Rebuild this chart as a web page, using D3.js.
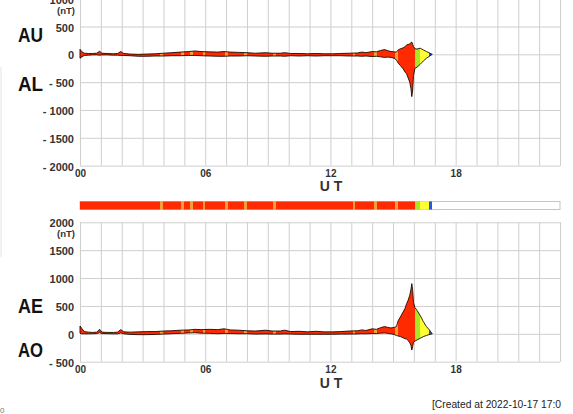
<!DOCTYPE html>
<html><head><meta charset="utf-8">
<script src="https://cdn.jsdelivr.net/npm/d3@7"></script>
<style>html,body{margin:0;padding:0;background:#fff;} svg{display:block;}</style>
</head><body>
<svg id="c" width="573" height="414"></svg>
<script>
// ---- data ----
const hours = [0,0.08,0.2,0.4,0.6,0.8,0.94,1.05,1.3,1.6,1.8,1.95,2.1,2.4,2.8,3.2,3.6,4.0,4.4,4.8,5.2,5.5,5.8,6.2,6.6,6.9,7.2,7.6,8.0,8.4,8.9,9.2,9.6,9.8,10.1,10.5,10.9,11.3,11.7,12.1,12.5,12.9,13.3,13.5,13.7,14.0,14.2,14.4,14.6,14.75,14.9,15.05,15.16,15.25,15.35,15.48,15.58,15.65,15.72,15.8,15.86,15.9,15.94,15.98,16.05,16.15,16.3,16.45,16.6,16.72,16.82,16.88];
const au = [90,50,20,15,15,20,55,20,15,10,15,50,15,5,0,5,10,20,30,40,50,60,50,45,40,50,40,35,30,20,30,20,20,30,15,15,10,15,10,10,15,20,25,40,30,50,45,70,85,65,50,45,40,80,100,115,140,170,175,190,210,220,180,140,100,95,110,80,50,30,10,0];
const al = [-70,-50,-20,-15,-10,-10,-15,-10,-10,-15,-15,-20,-20,-25,-35,-35,-30,-30,-25,-25,-20,-20,-25,-30,-35,-35,-30,-30,-25,-30,-35,-30,-30,-35,-25,-30,-25,-30,-25,-25,-25,-30,-30,-35,-30,-40,-35,-45,-55,-50,-55,-70,-100,-160,-200,-260,-320,-350,-420,-500,-620,-760,-640,-380,-250,-230,-180,-120,-70,-40,-15,0];
const ae = [140,100,40,30,25,30,80,30,25,25,30,75,35,30,35,40,40,50,55,65,70,80,75,80,75,90,70,65,55,50,65,50,50,65,40,45,35,45,35,35,40,50,55,70,60,90,80,110,130,115,105,115,130,240,300,390,460,540,600,690,800,900,780,560,470,420,330,220,130,80,30,0];
const ao = [10,0,0,0,2,5,20,5,2,0,0,15,0,-10,-15,-15,-10,-5,2,8,15,20,12,8,2,8,5,2,2,-5,-2,-5,-5,-2,-5,-8,-8,-8,-8,-8,-5,-5,-2,2,0,5,5,12,15,8,0,-12,-30,-40,-50,-70,-90,-90,-120,-160,-210,-290,-230,-150,-130,-110,-80,-50,-30,-15,-5,0];

const yTicksTop = [-2000,-1500,-1000,-500,0,500,1000];
const yTicksBottom = [-500,0,500,1000,1500,2000];
const xTickHours = [0,6,12,18];
const xTickLabels = ["00","06","12","18"];
const gridHours = d3.range(0,24);

// colour segments (hour edges) and their level
const segEdges = [0,3.84,3.97,4.83,4.96,5.27,5.40,5.88,6.01,6.95,7.08,7.88,8.01,9.27,9.40,13.07,13.20,14.09,14.22,15.10,15.23,16.04,16.30,16.72,16.88];
const segLevels = [0,1,0,1,0,1,0,1,0,1,0,1,0,1,0,1,0,1,0,1,0,2,3,4];
const levelColors = ["#ff2a00","#f2a032","#a8e62a","#ffff33","#2459e0"];

const svg = d3.select("#c");
const x = d3.scaleLinear().domain([0,23]).range([80,560]);
const yTop = d3.scaleLinear().domain([-2000,1000]).range([165.6,-1.3]);
const yBot = d3.scaleLinear().domain([-500,2000]).range([361.7,222.3]);
const FONT = "'Liberation Sans', Arial, Helvetica, sans-serif";

// gradient with hard stops for segment colours
const defs = svg.append("defs");
const grad = defs.append("linearGradient").attr("id","seg")
  .attr("gradientUnits","userSpaceOnUse")
  .attr("x1",x(0)).attr("x2",x(23)).attr("y1",0).attr("y2",0);
segLevels.forEach((lv,i)=>{
  grad.append("stop").attr("offset",segEdges[i]/23).attr("stop-color",levelColors[lv]);
  grad.append("stop").attr("offset",segEdges[i+1]/23).attr("stop-color",levelColors[lv]);
});
grad.append("stop").attr("offset",segEdges[segEdges.length-1]/23).attr("stop-color","#fff");

const fmt = d => d < 0 ? "- " + Math.abs(d) : String(d);

function panel(y, yTicks, upper, lower, bottomY, topY){
  const g = svg.append("g");
  // horizontal grid
  g.append("g").attr("transform",`translate(${x(0)},0)`)
    .call(d3.axisLeft(y).tickValues(yTicks).tickSize(-(x(23)-x(0))).tickFormat(""))
    .call(s=>{s.select(".domain").remove(); s.selectAll("line").attr("stroke","#cfcfcf");});
  // vertical grid
  g.append("g").attr("transform",`translate(0,${bottomY})`)
    .call(d3.axisBottom(x).tickValues(gridHours.concat([23])).tickSize(-(bottomY-topY)).tickFormat(""))
    .call(s=>{s.select(".domain").remove(); s.selectAll("line").attr("stroke","#cfcfcf");});
  // y labels
  g.append("g").attr("transform",`translate(${x(0)},0)`)
    .call(d3.axisLeft(y).tickValues(yTicks).tickSize(0).tickPadding(6).tickFormat(fmt))
    .call(s=>{s.select(".domain").remove();
      s.selectAll("text").attr("font-family",FONT).attr("font-size",11).attr("font-weight","bold").attr("fill","#333").attr("dy","0.42em");});
  // x labels
  g.append("g").attr("transform",`translate(0,${bottomY})`)
    .call(d3.axisBottom(x).tickValues(xTickHours).tickSize(0).tickPadding(4.5).tickFormat((d,i)=>xTickLabels[i]))
    .call(s=>{s.select(".domain").remove();
      s.selectAll("text").attr("font-family",FONT).attr("font-size",10).attr("font-weight","bold").attr("fill","#333");});
  g.append("text").attr("x",331).attr("y",bottomY+25.8).attr("text-anchor","middle")
    .attr("font-family",FONT).attr("font-size",14).attr("font-weight","bold").attr("fill","#333").text("U T");
  // filled band
  const area = d3.area().x((d,i)=>x(hours[i])).y0((d,i)=>y(lower[i])).y1((d,i)=>y(upper[i]));
  g.append("path").datum(hours).attr("d",area).attr("fill","url(#seg)")
    .attr("stroke","#1a0a00").attr("stroke-width",0.9).attr("stroke-linejoin","round");
  return g;
}

panel(yTop, yTicksTop, au, al, 165.6, -1.5);
panel(yBot, yTicksBottom, ae, ao, 361.7, 222.3);

// (nT) labels
[[14],[237]].forEach(([yy])=>{
  svg.append("text").attr("x",75).attr("y",yy).attr("text-anchor","end")
    .attr("font-family",FONT).attr("font-size",9.5).attr("font-weight","bold").attr("fill","#333").text("(nT)");
});

// big index labels
[["AU",41.5],["AL",91],["AE",313],["AO",357]].forEach(([t,yy])=>{
  svg.append("text").attr("x",18).attr("y",yy).attr("textLength",25).attr("lengthAdjust","spacingAndGlyphs")
    .attr("font-family",FONT).attr("font-size",20).attr("font-weight","bold").attr("fill","#111").text(t);
});

// colour bar
svg.append("rect").attr("x",x(0)).attr("y",201.5).attr("width",x(23)-x(0)).attr("height",8)
  .attr("fill","#fff").attr("stroke","#c4c4c4").attr("stroke-width",1);
svg.append("rect").attr("x",x(0)).attr("y",201.5).attr("width",x(segEdges[segEdges.length-1])-x(0)).attr("height",8)
  .attr("fill","url(#seg)");

// faint left line and stray text
svg.append("line").attr("x1",1).attr("x2",1).attr("y1",67).attr("y2",257).attr("stroke","#e4e4e4");
svg.append("text").attr("x",0).attr("y",413).attr("font-family",FONT).attr("font-size",8).attr("fill","#777").text("0");

// created note
svg.append("text").attr("x",432).attr("y",408).attr("textLength",129).attr("lengthAdjust","spacingAndGlyphs")
  .attr("font-family",FONT).attr("font-size",10).attr("fill","#222").text("[Created at 2022-10-17 17:0");
</script>
</body></html>
